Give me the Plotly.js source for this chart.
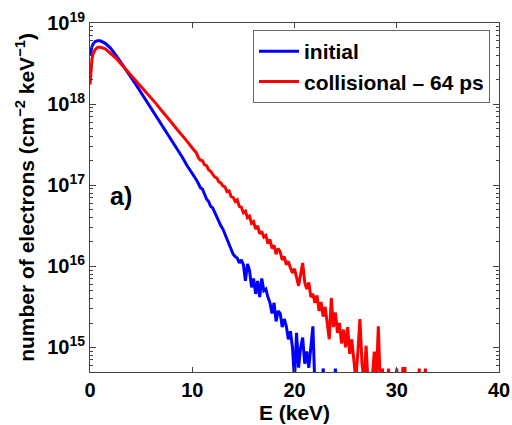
<!DOCTYPE html>
<html>
<head>
<meta charset="utf-8">
<script src="https://cdn.plot.ly/plotly-3.0.1.min.js"></script>
<style>html,body{margin:0;padding:0;background:#fff;}#chart{width:512px;height:425px;}</style>
</head>
<body>
<div id="chart"></div>
<script>
// Energy grid (keV)
const energy = [0,0.1,0.2,0.3,0.5,0.75,1,1.5,2,2.5,3,3.5,4,4.5,5,5.5,6,6.5,7,7.5,8,8.5,9,9.5,10,
  10.2,10.4,10.6,10.8,11,11.2,11.4,11.6,11.8,12,
  12.2,12.4,12.6,12.8,13,13.2,13.4,13.6,13.8,14,
  14.2,14.4,14.6,14.8,15,15.2,15.4,15.6,15.8,16,
  16.2,16.4,16.6,16.8,17,17.2,17.4,17.6,17.8,18,
  18.2,18.4,18.6,18.8,19,19.2,19.4,19.6,19.8,20,
  20.2,20.4,20.6,20.8,21,21.2,21.4,21.6,21.8,22,
  22.2,22.4,22.6,22.8,23,23.2,23.4,23.6,23.8,24,
  24.2,24.4,24.6,24.8,25,25.2,25.4,25.6,25.8,26,
  26.2,26.4,26.6,26.8,27,27.2,27.4,27.6,27.8,28,
  28.2,28.4,28.6,28.8,29,29.2,29.4,29.6,29.8,30,
  30.2,30.4,30.6,30.8,31,31.2,31.4,31.6,31.8,32,
  32.2,32.4,32.6,32.8,33];

// "initial" spectrum (cm^-2 keV^-1)
const initial = [3.98e18,4.68e18,5.13e18,5.50e18,5.89e18,6.03e18,6.03e18,5.62e18,4.90e18,4.07e18,3.31e18,2.69e18,2.14e18,1.74e18,1.38e18,1.10e18,8.71e17,7.08e17,5.50e17,4.47e17,3.55e17,2.75e17,2.24e17,1.74e17,1.41e17,
  1.26e17,1.17e17,1.05e17,9.33e16,8.91e16,7.59e16,6.76e16,6.31e16,5.50e16,5.25e16,
  4.57e16,4.17e16,3.55e16,3.16e16,2.88e16,2.51e16,2.14e16,1.91e16,1.58e16,1.41e16,
  1.32e16,1.26e16,1.10e16,1.20e16,1.05e16,6.61e15,1.07e16,8.91e15,5.50e15,7.08e15,
  4.57e15,6.61e15,4.17e15,7.08e15,5.01e15,5.25e15,4.17e15,3.55e15,2.63e15,3.55e15,
  2.09e15,2.82e15,2.63e15,1.78e15,2.24e15,1.82e15,1.26e15,1.58e15,1.00e15,3.98e14,
  1.51e15,5.62e14,1.00e15,1.32e15,6.31e14,8.91e14,5.62e14,1.00e15,1.82e15,3.16e14,
  2e14,2.5e14,2e14,5.5e14,2e14,1.6e14,2e14,1.8e14,2e14,5.5e14,2e14];

// "collisional – 64 ps" spectrum (cm^-2 keV^-1)
const collisional = [1.74e18,2.82e18,3.63e18,4.17e18,4.68e18,5.01e18,5.01e18,4.79e18,4.27e18,3.72e18,3.16e18,2.69e18,2.29e18,1.95e18,1.66e18,1.38e18,1.17e18,1.00e18,8.32e17,7.08e17,5.89e17,4.90e17,4.17e17,3.47e17,2.88e17,
  2.69e17,2.51e17,2.19e17,2.04e17,2.00e17,1.78e17,1.74e17,1.55e17,1.48e17,1.38e17,
  1.26e17,1.23e17,1.10e17,1.07e17,9.77e16,9.55e16,8.32e16,8.51e16,7.24e16,7.08e16,
  6.31e16,6.61e16,5.50e16,5.37e16,4.57e16,4.79e16,3.98e16,4.17e16,3.39e16,3.55e16,
  2.88e16,3.16e16,2.51e16,2.69e16,2.29e16,2.40e16,1.91e16,2.14e16,1.66e16,1.82e16,
  1.41e16,1.66e16,1.51e16,1.20e16,1.32e16,1.05e16,1.15e16,9.55e15,8.32e15,9.33e15,
  7.08e15,5.75e15,7.94e15,1.10e16,6.31e15,5.25e15,6.31e15,4.17e15,4.57e15,3.55e15,
  4.37e15,2.82e15,3.63e15,2.40e15,3.16e15,2.00e15,1.26e15,4.07e15,1.78e15,2.69e15,
  1.51e15,2.00e15,1.12e15,1.66e15,1.00e15,1.78e15,8.32e14,1.26e15,7.08e14,3.98e14,
  8.91e14,2.24e15,6.31e14,3.98e14,1.05e15,3.55e14,3.16e14,3.98e14,8.91e14,3.98e14,
  1.82e15,3.16e14,5.5e14,2e14,2e14,5.5e14,2e14,2e14,2e14,5.5e14,
  2e14,2e14,5.5e14,5.5e14,2e14,2e14,2e14,2e14,2e14,2e14,
  5.5e14,2e14,2e14,5.5e14,2e14];

const seriesNames = ['initial', 'collisional \u2013 64 ps'];
const yTickVals = [1e15, 1e16, 1e17, 1e18, 1e19];
const yTickText = ['10<sup>15</sup>','10<sup>16</sup>','10<sup>17</sup>','10<sup>18</sup>','10<sup>19</sup>'];
const xTickVals = [0, 10, 20, 30, 40];

const F = 'Liberation Sans, Arial, Helvetica, sans-serif';

const traces = [
  {x: energy.slice(0, initial.length), y: initial, name: seriesNames[0], type: 'scatter', mode: 'lines',
   line: {color: '#0000ff', width: 3}},
  {x: energy, y: collisional, name: seriesNames[1], type: 'scatter', mode: 'lines',
   line: {color: '#ff0000', width: 3}}
];

const axisCommon = {
  showline: true, linecolor: '#444', linewidth: 1, mirror: 'ticks',
  ticks: 'inside', tickcolor: '#444', showgrid: false, zeroline: false,
  tickfont: {family: F, size: 20, color: '#000', weight: 'bold'}
};

const layout = {
  width: 512, height: 425,
  margin: {l: 90, r: 13, t: 23, b: 53},
  paper_bgcolor: '#fff', plot_bgcolor: '#fff',
  showlegend: true,
  legend: {x: 0.3985, y: 0.98, xanchor: 'left', yanchor: 'top', itemwidth: 40,
    bordercolor: '#666', borderwidth: 1, bgcolor: '#fff',
    font: {family: F, size: 21, color: '#000', weight: 'bold'}},
  xaxis: Object.assign({}, axisCommon, {
    range: [0, 40], tickvals: xTickVals, ticklen: 5,
    title: {text: 'E (keV)', font: {family: F, size: 21, color: '#000', weight: 'bold'}, standoff: 4}
  }),
  yaxis: Object.assign({}, axisCommon, {
    type: 'log', range: [14.697, 19], tickvals: yTickVals, ticktext: yTickText, ticklen: 6,
    minor: {ticks: 'inside', ticklen: 3, tickcolor: '#444', dtick: 'D1', showgrid: false},
    title: {text: 'number of electrons (cm<sup>\u22122</sup> keV<sup>\u22121</sup>)',
      font: {family: F, size: 21, color: '#000', weight: 'bold'}, standoff: 6}
  }),
  annotations: [{text: 'a)', xref: 'paper', yref: 'paper', x: 0.077, y: 0.504,
    xanchor: 'center', yanchor: 'middle', showarrow: false,
    font: {family: F, size: 25, color: '#000', weight: 'bold'}}]
};

Plotly.newPlot('chart', traces, layout, {displayModeBar: false, staticPlot: true});
</script>
</body>
</html>
